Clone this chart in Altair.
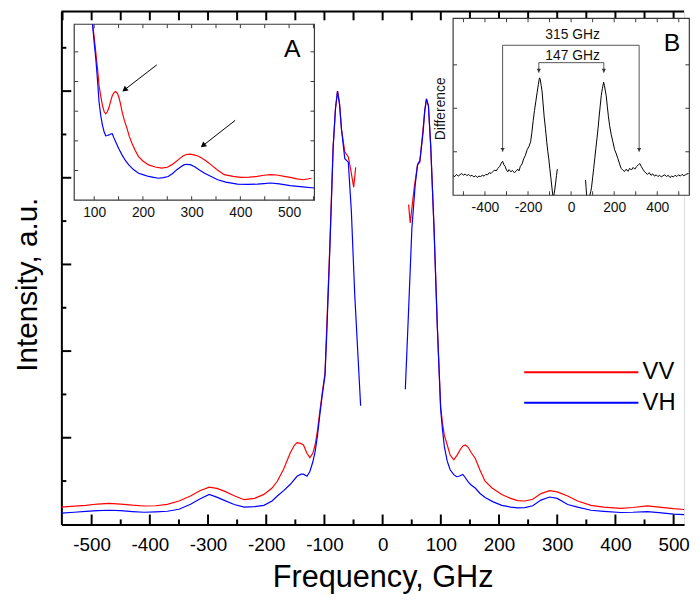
import math
import altair as alt
import pandas as pd

# ---------------- main spectrum (arbitrary units) ----------------
vv_left_freq = [-552, -530, -510, -490, -470, -450, -430, -410, -390, -370, -350, -330, -315, -298, -285,
                -272, -255, -238, -220, -204, -190, -181, -170, -159, -152, -147, -141, -136, -130, -125,
                -120, -116, -112, -108, -104, -99, -96, -90.6, -85, -81, -77.5, -74, -70.7, -65, -59,
                -55, -49.7, -46.3]
vv_left_val = [0.20, 0.21, 0.22, 0.235, 0.243, 0.235, 0.222, 0.212, 0.215, 0.232, 0.27, 0.327, 0.385, 0.43, 0.415,
               0.384, 0.33, 0.285, 0.30, 0.346, 0.42, 0.498, 0.64, 0.82, 0.91, 0.943, 0.935, 0.916, 0.82, 0.77,
               0.82, 0.916, 1.08, 1.30, 1.50, 1.75, 2.28, 3.24, 4.37, 4.8, 5.0, 4.85, 4.56, 4.30, 4.24,
               4.1, 3.89, 4.12]
vv_right_freq = [44.6, 47.4, 54.2, 60, 63.9, 68.5, 72, 75.3, 78.7, 82.6, 88.3, 94, 99.7, 102.6, 106,
                 111, 116, 122.3, 128, 134, 138, 142, 147, 152, 159, 167, 176, 188, 204.7, 220,
                 232, 244.5, 258, 272, 287, 300, 318, 335, 358, 380, 409, 430, 454.6, 475, 500, 518]
vv_right_val = [3.69, 3.48, 3.88, 4.15, 4.18, 4.49, 4.75, 4.91, 4.83, 4.37, 3.42, 2.28, 1.36, 1.18, 1.03,
                0.916, 0.80, 0.745, 0.80, 0.87, 0.905, 0.916, 0.89, 0.83, 0.764, 0.63, 0.498, 0.42, 0.346, 0.30,
                0.275, 0.27, 0.29, 0.355, 0.39, 0.375, 0.327, 0.27, 0.22, 0.20, 0.186, 0.195, 0.213, 0.20, 0.182, 0.172]
vh_left_freq = [-552, -530, -510, -490, -470, -450, -430, -410, -390, -370, -350, -330, -315, -298, -285,
                -272, -255, -238, -220, -204, -190, -181, -170, -159, -147, -140, -136, -130, -125, -120,
                -116, -112, -108, -104, -99, -96, -90.6, -85, -81, -77.5, -74, -70.7, -65, -59, -53.7,
                -48, -42, -37.8]
vh_left_val = [0.13, 0.14, 0.15, 0.16, 0.163, 0.158, 0.148, 0.14, 0.145, 0.152, 0.175, 0.232, 0.29, 0.346, 0.315,
               0.277, 0.23, 0.20, 0.205, 0.22, 0.27, 0.327, 0.39, 0.46, 0.555, 0.58, 0.58, 0.555, 0.61, 0.72,
               0.84, 1.02, 1.26, 1.48, 1.72, 2.2, 3.2, 4.35, 4.8, 5.0, 4.85, 4.56, 4.22, 4.18, 3.61,
               2.66, 1.90, 1.37]
vh_right_freq = [39, 44.6, 50.3, 56, 60, 64, 69.6, 72.5, 75.3, 78.7, 82.6, 88.3, 94, 99.7, 102.6,
                 106, 111, 116, 122.3, 127, 131, 134, 137.8, 141, 147, 152, 159, 167, 176, 190,
                 204.7, 220, 232, 244.5, 258, 272, 287, 300, 318, 335, 358, 380, 409, 430, 454.6,
                 475, 500, 518]
vh_right_val = [1.56, 2.47, 3.42, 3.92, 4.15, 4.2, 4.53, 4.78, 4.91, 4.83, 4.37, 3.42, 2.28, 1.33, 1.11,
                0.90, 0.73, 0.63, 0.574, 0.55, 0.555, 0.565, 0.575, 0.55, 0.49, 0.455, 0.42, 0.36, 0.31, 0.26,
                0.22, 0.20, 0.19, 0.194, 0.215, 0.28, 0.316, 0.30, 0.23, 0.20, 0.163, 0.15, 0.137, 0.14, 0.148,
                0.135, 0.118, 0.112]

# ---------------- inset A (zoom of the right wing) ----------------
a_vv_freq = [96.6, 100, 103.4, 107, 110, 113.5, 117, 120.5, 123.7, 127, 130.4, 134, 137, 141, 144,
             147.5, 150.7, 154, 157.4, 162, 167.5, 172, 177.7, 184, 191, 200, 211.6, 225, 238.5, 250,
             258.8, 267, 275.9, 283, 289.3, 297, 306.3, 313, 319.7, 330, 340, 353, 367, 385, 401,
             418, 434.7, 448, 461.7, 475, 490, 502.3, 516, 529.4, 546]
a_vv_val = [5.93, 5.5, 4.97, 4.4, 3.86, 3.5, 3.19, 2.98, 2.91, 2.98, 3.13, 3.35, 3.52, 3.63, 3.66,
            3.6, 3.47, 3.25, 2.97, 2.68, 2.41, 2.15, 1.91, 1.68, 1.47, 1.32, 1.19, 1.12, 1.08, 1.11,
            1.19, 1.29, 1.41, 1.50, 1.54, 1.55, 1.52, 1.49, 1.43, 1.32, 1.19, 1.02, 0.86, 0.8, 0.77,
            0.78, 0.8, 0.84, 0.86, 0.85, 0.8, 0.77, 0.72, 0.69, 0.74]
a_vh_freq = [96.6, 100, 103.4, 107, 110, 113.5, 117, 120.5, 123.7, 127, 130.4, 134, 137, 140.5, 144,
             150, 157.4, 164, 171, 180, 191, 200, 211.6, 222, 231.8, 242, 252, 261, 269, 278,
             284, 289.3, 297, 306.3, 316, 326.6, 340, 353.5, 370, 394, 415, 434.7, 448, 461.7, 480,
             502.3, 528, 552]
a_vh_val = [5.93, 5.3, 4.74, 4.0, 3.3, 2.85, 2.52, 2.3, 2.17, 2.18, 2.2, 2.23, 2.24, 2.1, 1.97,
            1.75, 1.52, 1.34, 1.19, 1.04, 0.91, 0.86, 0.8, 0.77, 0.74, 0.76, 0.8, 0.9, 1.02, 1.13,
            1.19, 1.21, 1.2, 1.13, 1.02, 0.91, 0.8, 0.69, 0.61, 0.54, 0.53, 0.54, 0.56, 0.58, 0.55,
            0.49, 0.45, 0.41]
a_arrow_x0 = [228.4, 389.4]
a_arrow_y0 = [4.56, 2.69]
a_arrow_x1 = [157.4, 318.5]
a_arrow_y1 = [3.66, 1.78]
a_label = ["A"]
a_label_x = [506.7]
a_label_y = [5.09]

# ---------------- inset B (difference VV - VH) ----------------
b1_freq = [-548, -540, -532, -524, -516, -508, -500, -492, -484, -476,
           -468, -460, -452, -444, -436, -428, -420, -412, -404, -396,
           -388, -380, -372, -364, -356, -348, -340, -332, -324, -318,
           -312, -306, -300, -294, -288, -280, -272, -264, -256, -248,
           -242, -236, -228, -220, -212, -204, -196, -188, -182, -176,
           -170, -164, -158, -152, -147, -143, -139, -135, -130, -125,
           -119, -113, -108, -104, -99, -94, -89, -85]
b1_val = [0.45, 0.43, 0.48, 0.44, 0.47, 0.50, 0.46, 0.49, 0.45, 0.48,
          0.44, 0.46, 0.42, 0.45, 0.41, 0.44, 0.43, 0.46, 0.44, 0.48,
          0.47, 0.52, 0.50, 0.54, 0.58, 0.56, 0.62, 0.66, 0.74, 0.78,
          0.70, 0.66, 0.58, 0.54, 0.59, 0.54, 0.57, 0.52, 0.55, 0.60,
          0.56, 0.66, 0.72, 0.84, 0.92, 1.05, 1.12, 1.23, 1.45, 1.72,
          1.95, 2.15, 2.36, 2.55, 2.70, 2.66, 2.52, 2.40, 2.10, 1.80,
          1.53, 1.22, 1.00, 0.85, 0.62, 0.40, 0.17, 0.0]
b2_freq = [-80, -76, -72, -68, -64]
b2_val = [0.0, 0.12, 0.28, 0.45, 0.6]
b3_freq = [67, 69.5, 72]
b3_val = [0.35, 0.18, 0.0]
b4_freq = [87, 91, 94.6, 100, 105, 110, 115, 120, 125, 130,
           135, 140, 145, 151, 155, 159, 163, 168, 173, 179,
           186, 194, 202, 210, 217, 224, 232, 240, 248, 256,
           264, 272, 280, 288, 296, 304, 312, 319, 326, 333,
           340, 347, 355, 363, 371, 379, 387, 395, 403, 411,
           419, 427, 435, 443, 451, 459, 467, 475, 483, 491,
           499, 507, 515, 523, 531, 538, 545]
b4_val = [0.0, 0.08, 0.17, 0.40, 0.62, 0.85, 1.08, 1.30, 1.53, 1.80,
          2.05, 2.29, 2.45, 2.60, 2.52, 2.40, 2.29, 2.05, 1.82, 1.60,
          1.40, 1.23, 1.05, 0.95, 0.85, 0.74, 0.62, 0.58, 0.545, 0.60,
          0.55, 0.62, 0.58, 0.64, 0.60, 0.66, 0.70, 0.73, 0.66, 0.60,
          0.55, 0.51, 0.48, 0.52, 0.46, 0.49, 0.44, 0.47, 0.43, 0.46,
          0.42, 0.45, 0.47, 0.43, 0.46, 0.41, 0.44, 0.42, 0.46, 0.43,
          0.47, 0.44, 0.48, 0.45, 0.47, 0.49, 0.50]
# brackets: (x0, y0, x1, y1)
b_seg_x0 = [-318, -318, 316, -150, -150, 152]
b_seg_y0 = [3.45, 3.45, 3.45, 3.05, 3.05, 3.05]
b_seg_x1 = [316, -318, 316, 152, -150, 152]
b_seg_y1 = [3.45, 1.0, 1.0, 3.05, 2.82, 2.82]
b_head_x = [-318, 316, -150, 152]
b_head_y = [1.0, 1.0, 2.82, 2.82]
b_text = ["315 GHz", "147 GHz"]
b_text_x = [7, 7]
b_text_y = [3.69, 3.20]
b_label = ["B"]
b_label_x = [469]
b_label_y = [3.5]

# ---------------- layout ----------------
W, H = 630, 519
FONT = "Liberation Sans"
MX = alt.Scale(domain=[-552, 518], nice=False, zero=False)
MY = alt.Scale(domain=[0, 5.92], nice=False, zero=False)
HYPH = "replace(datum.label, '\u2212', '-')"

AX_MX = alt.Axis(orient="bottom", values=list(range(-500, 501, 100)), ticks=False, tickSize=0,
                 domainColor="black", domainWidth=2, labelFontSize=19, labelColor="black",
                 labelPadding=11, labelFont=FONT, grid=False, labelExpr=HYPH, labelFlush=False,
                 title="Frequency, GHz", titleFontSize=31, titleFontWeight="normal", titleColor="black",
                 titleFont=FONT, titleX=325, titleY=63, titleBaseline="alphabetic", titleAlign="center")
AX_MY = alt.Axis(orient="left", labels=False, ticks=False, tickSize=0, domainColor="black",
                 domainWidth=2, grid=False, title="Intensity, a.u.", titleFontSize=30,
                 titleFontWeight="normal", titleColor="black", titleFont=FONT, titleAngle=270,
                 titleX=-25, titleY=276, titleBaseline="alphabetic", titleAlign="center")


def mx(field):
    return alt.X(field, type="quantitative", scale=MX, axis=AX_MX)


def my(field):
    return alt.Y(field, type="quantitative", scale=MY, axis=AX_MY)


def series_df(name, fs, vs):
    return pd.DataFrame({"series": name, "f": fs, "v": vs})


# legend: long horizontal stroke as a custom path (unit box scaled by sqrt(size)/2)
color = alt.Color("series:N",
                  scale=alt.Scale(domain=["VV", "VH"], range=["#ff0000", "#0000ff"]),
                  legend=alt.Legend(title=None, orient="none", legendX=513, legendY=352,
                                    symbolType="M-5,0H5", symbolSize=534, symbolStrokeWidth=2,
                                    symbolFillColor="transparent",
                                    labelFontSize=24, labelFont=FONT, labelColor="black",
                                    labelOffset=49, rowPadding=6, padding=0))

main_layers = []
for name, fs, vs in [("VV", vv_left_freq, vv_left_val), ("VV", vv_right_freq, vv_right_val),
                     ("VH", vh_left_freq, vh_left_val), ("VH", vh_right_freq, vh_right_val)]:
    main_layers.append(
        alt.Chart(series_df(name, fs, vs)).mark_line(strokeWidth=1.2).encode(
            x=mx("f"), y=my("v"), color=color))

bottom_major = pd.DataFrame({"t": list(range(-500, 501, 100)), "y0": 0.0})
bottom_minor = pd.DataFrame({"t": list(range(-450, 451, 100)), "y0": 0.0})
top_ticks = pd.DataFrame({"t": list(range(-550, 501, 50)), "y0": 5.92})
left_major = pd.DataFrame({"t": [1, 2, 3, 4, 5], "x0": -552.0})
left_minor = pd.DataFrame({"t": [0.5, 1.5, 2.5, 3.5, 4.5, 5.5], "x0": -552.0})
top_line = pd.DataFrame({"y0": [5.92]})

main_layers += [
    alt.Chart(bottom_major).mark_rule(color="black", strokeWidth=2, y2Offset=-10).encode(
        x=mx("t"), y=my("y0"), y2="y0:Q"),
    alt.Chart(bottom_minor).mark_rule(color="black", strokeWidth=2, y2Offset=-5).encode(
        x=mx("t"), y=my("y0"), y2="y0:Q"),
    alt.Chart(top_ticks).mark_rule(color="black", strokeWidth=2, y2Offset=9).encode(
        x=mx("t"), y=my("y0"), y2="y0:Q"),
    alt.Chart(left_major).mark_rule(color="black", strokeWidth=2, x2Offset=10).encode(
        y=my("t"), x=mx("x0"), x2="x0:Q"),
    alt.Chart(left_minor).mark_rule(color="black", strokeWidth=2, x2Offset=5).encode(
        y=my("t"), x=mx("x0"), x2="x0:Q"),
    alt.Chart(top_line).mark_rule(color="black", strokeWidth=2).encode(y=my("y0")),
]
main = alt.layer(*main_layers)


# ---------------- inset builder ----------------
def inset(xdom, ydom, xrange, yrange, xaxis, yaxis, xticks, yticks, tick_len):
    SX = alt.Scale(domain=xdom, range=xrange, nice=False, zero=False)
    SY = alt.Scale(domain=ydom, range=yrange, nice=False, zero=False)

    def ix(field):
        return alt.X(field, type="quantitative", scale=SX, axis=xaxis)

    def iy(field):
        return alt.Y(field, type="quantitative", scale=SY, axis=yaxis)

    fr = pd.DataFrame({"x0": [xdom[0]], "x1": [xdom[1]], "y0": [ydom[0]], "y1": [ydom[1]]})
    layers = [alt.Chart(fr).mark_rect(fill="white", stroke="#3a3a3a", strokeWidth=1.2).encode(
        x=ix("x0"), x2="x1:Q", y=iy("y0"), y2="y1:Q")]
    tk = dict(color="#3a3a3a", strokeWidth=1)
    layers += [
        alt.Chart(pd.DataFrame({"t": xticks, "y0": ydom[0]})).mark_rule(y2Offset=-tick_len, **tk).encode(
            x=ix("t"), y=iy("y0"), y2="y0:Q"),
        alt.Chart(pd.DataFrame({"t": xticks, "y0": ydom[1]})).mark_rule(y2Offset=tick_len, **tk).encode(
            x=ix("t"), y=iy("y0"), y2="y0:Q"),
        alt.Chart(pd.DataFrame({"t": yticks, "x0": xdom[0]})).mark_rule(x2Offset=tick_len, **tk).encode(
            y=iy("t"), x=ix("x0"), x2="x0:Q"),
        alt.Chart(pd.DataFrame({"t": yticks, "x0": xdom[1]})).mark_rule(x2Offset=-tick_len, **tk).encode(
            y=iy("t"), x=ix("x0"), x2="x0:Q"),
    ]
    pxx = (xrange[1] - xrange[0]) / (xdom[1] - xdom[0])
    pxy = (yrange[0] - yrange[1]) / (ydom[1] - ydom[0])
    return layers, ix, iy, pxx, pxy


# inset A
A_XDOM, A_YDOM = [59, 552], [0, 5.93]
AX_A = alt.Axis(orient="bottom", offset=191 - H, values=[100, 200, 300, 400, 500], ticks=False,
                tickSize=0, domain=False, labelFontSize=14, labelPadding=5, labelColor="#111",
                labelFont=FONT, grid=False, title=None, labelFlush=False)
a_layers, ax_, ay_, a_pxx, a_pxy = inset(A_XDOM, A_YDOM, [13, 256], [191, 13], AX_A, None,
                                         list(range(100, 551, 50)), [1, 2, 3, 4, 5], 4)
a_layers += [
    alt.Chart(series_df("VV", a_vv_freq, a_vv_val)).mark_line(color="#ff0000", strokeWidth=1.2).encode(
        x=ax_("f"), y=ay_("v")),
    alt.Chart(series_df("VH", a_vh_freq, a_vh_val)).mark_line(color="#0000ff", strokeWidth=1.2).encode(
        x=ax_("f"), y=ay_("v")),
]
arrows = pd.DataFrame({"x0": a_arrow_x0, "y0": a_arrow_y0, "x1": a_arrow_x1, "y1": a_arrow_y1})
dxp = (arrows.x1 - arrows.x0) * a_pxx
dyp = -(arrows.y1 - arrows.y0) * a_pxy
norm = (dxp ** 2 + dyp ** 2) ** 0.5
arrows["ang"] = [(math.degrees(math.atan2(a, -b)) + 360) % 360 for a, b in zip(dxp, dyp)]
arrows["hx"] = arrows.x1 - (dxp / norm) * 3 / a_pxx
arrows["hy"] = arrows.y1 + (dyp / norm) * 3 / a_pxy
a_layers += [
    alt.Chart(arrows).mark_rule(color="black", strokeWidth=1).encode(
        x=ax_("x0"), y=ay_("y0"), x2="hx:Q", y2="hy:Q"),
    alt.Chart(arrows).mark_point(shape="triangle-up", filled=True, color="black", size=40, opacity=1).encode(
        x=ax_("hx"), y=ay_("hy"), angle=alt.Angle("ang:Q", scale=None)),
    alt.Chart(pd.DataFrame({"t": a_label, "x": a_label_x, "y": a_label_y})).mark_text(
        fontSize=25, font=FONT, color="black", baseline="middle", align="center").encode(
        x=ax_("x"), y=ay_("y"), text="t:N"),
]
inset_a = alt.layer(*a_layers)

# inset B
B_XDOM, B_YDOM = [-548, 549], [0, 4.07]
B_LEFT = 396.3
AX_BX = alt.Axis(orient="bottom", offset=186 - H, values=[-400, -200, 0, 200, 400], ticks=False,
                 tickSize=0, domain=False, labelFontSize=14, labelPadding=5, labelColor="#111",
                 labelFont=FONT, grid=False, title=None, labelExpr=HYPH, labelFlush=False)
AX_BY = alt.Axis(orient="left", offset=-B_LEFT, labels=False, ticks=False, tickSize=0, domain=False,
                 grid=False, title="Difference", titleFontSize=14, titleFontWeight="normal",
                 titleColor="#111", titleFont=FONT, titleAngle=270, titleX=-9, titleY=98,
                 titleBaseline="alphabetic", titleAlign="center")
b_layers, bx_, by_, b_pxx, b_pxy = inset(B_XDOM, B_YDOM, [B_LEFT, 635.3], [186, 7], AX_BX, AX_BY,
                                         list(range(-500, 501, 100)), [1, 2, 3], 4)
for fs, vs in [(b1_freq, b1_val), (b2_freq, b2_val), (b3_freq, b3_val), (b4_freq, b4_val)]:
    b_layers.append(
        alt.Chart(pd.DataFrame({"f": fs, "v": vs})).mark_line(color="black", strokeWidth=1).encode(
            x=bx_("f"), y=by_("v")))
segs = pd.DataFrame({"x0": b_seg_x0, "y0": b_seg_y0, "x1": b_seg_x1, "y1": b_seg_y1})
heads = pd.DataFrame({"x": b_head_x, "y": b_head_y})
b_layers += [
    alt.Chart(segs).mark_rule(color="#555555", strokeWidth=1).encode(
        x=bx_("x0"), y=by_("y0"), x2="x1:Q", y2="y1:Q"),
    alt.Chart(heads).mark_point(shape="triangle-down", filled=True, color="#333333", size=18,
                                opacity=1, yOffset=-2).encode(x=bx_("x"), y=by_("y")),
    alt.Chart(pd.DataFrame({"t": b_text, "x": b_text_x, "y": b_text_y})).mark_text(
        fontSize=14, font=FONT, color="#111", baseline="middle", align="center").encode(
        x=bx_("x"), y=by_("y"), text="t:N"),
    alt.Chart(pd.DataFrame({"t": b_label, "x": b_label_x, "y": b_label_y})).mark_text(
        fontSize=25, font=FONT, color="black", baseline="middle", align="center").encode(
        x=bx_("x"), y=by_("y"), text="t:N"),
]
inset_b = alt.layer(*b_layers)

chart = alt.layer(main, inset_a, inset_b).resolve_scale(
    x="independent", y="independent"
).properties(
    width=W, height=H,
    autosize=alt.AutoSizeParams(type="none"),
    padding={"left": 54, "top": 0, "right": 8, "bottom": 69},
).configure_view(stroke="transparent").configure(font=FONT)

chart.save("out.html", embed_options={"renderer": "svg", "actions": False})
